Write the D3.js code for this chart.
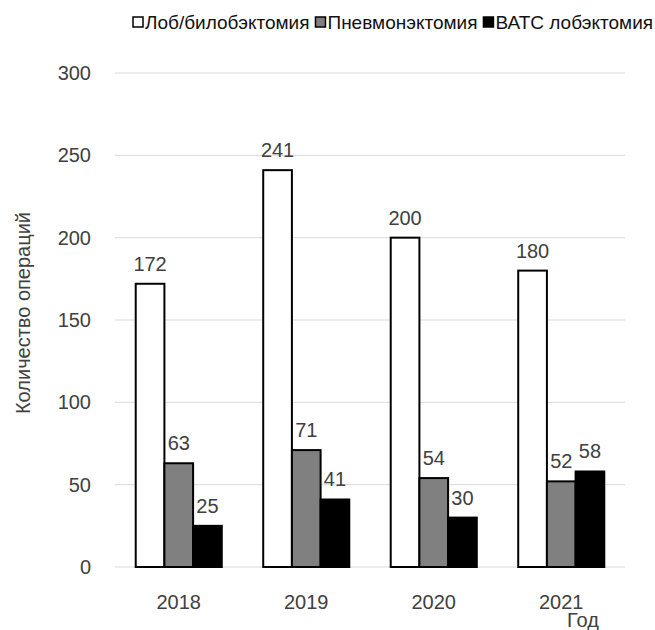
<!DOCTYPE html>
<html>
<head>
<meta charset="utf-8">
<script src="https://cdn.jsdelivr.net/npm/d3@7"></script>
<style>
  html, body { margin: 0; padding: 0; background: #fff; }
  svg { display: block; font-family: "Liberation Sans", Arial, sans-serif; }
</style>
</head>
<body>
<svg id="chart" width="655" height="630"></svg>
<script>
// Operation counts per year by procedure type
const years = ["2018", "2019", "2020", "2021"];
const seriesNames = ["Лоб/билобэктомия", "Пневмонэктомия", "ВАТС лобэктомия"];
const lobBilob = [172, 241, 200, 180];
const pneumonectomy = [63, 71, 54, 52];
const vatsLobectomy = [25, 41, 30, 58];
const yTicks = [0, 50, 100, 150, 200, 250, 300];
const seriesFill = ["#ffffff", "#808080", "#000000"];

const seriesValues = [lobBilob, pneumonectomy, vatsLobectomy];

const svg = d3.select("#chart");
const margin = { left: 115, right: 30, top: 73, bottom: 63 };
const W = 655, H = 630;
const FS = 20;
const TEXT = "#404040";

const x = d3.scaleBand().domain(years).range([margin.left, W - margin.right]).paddingInner(0.325).paddingOuter(0.1625);
const xSub = d3.scaleBand().domain(d3.range(seriesNames.length)).range([0, x.bandwidth()]);
const y = d3.scaleLinear().domain([0, 300]).range([H - margin.bottom, margin.top]);

// gridlines
svg.append("g")
  .selectAll("line")
  .data(yTicks)
  .join("line")
  .attr("x1", margin.left).attr("x2", W - margin.right)
  .attr("y1", d => y(d)).attr("y2", d => y(d))
  .attr("stroke", "#d9d9d9").attr("stroke-width", 1);

// y axis tick labels
const yAxis = d3.axisLeft(y).tickValues(yTicks).tickSize(0).tickPadding(24);
const gy = svg.append("g").attr("transform", `translate(${margin.left},0)`).call(yAxis);
gy.select(".domain").remove();
gy.selectAll("text").attr("font-size", FS).attr("fill", TEXT).attr("font-family", "Liberation Sans, Arial, sans-serif");

// x axis labels
const xAxis = d3.axisBottom(x).tickSize(0).tickPadding(28);
const gx = svg.append("g").attr("transform", `translate(0,${y(0)})`).call(xAxis);
gx.select(".domain").remove();
gx.selectAll("text").attr("font-size", FS).attr("fill", TEXT).attr("font-family", "Liberation Sans, Arial, sans-serif");

// bars with value labels
const groups = svg.append("g")
  .selectAll("g")
  .data(years)
  .join("g")
  .attr("transform", d => `translate(${x(d)},0)`);

groups.each(function(year, yi) {
  const g = d3.select(this);
  seriesValues.forEach((vals, si) => {
    const v = vals[yi];
    g.append("rect")
      .attr("x", xSub(si))
      .attr("y", y(v))
      .attr("width", xSub.bandwidth())
      .attr("height", y(0) - y(v))
      .attr("fill", seriesFill[si])
      .attr("stroke", "#000")
      .attr("stroke-width", 2);
    g.append("text")
      .attr("x", xSub(si) + xSub.bandwidth() / 2)
      .attr("y", y(v) - 13)
      .attr("text-anchor", "middle")
      .attr("font-size", FS)
      .attr("fill", TEXT)
      .text(v);
  });
});

// axis titles
svg.append("text")
  .attr("transform", `translate(30,${(y(0) + y(300)) / 2 - 7}) rotate(-90)`)
  .attr("text-anchor", "middle")
  .attr("font-size", FS)
  .attr("fill", TEXT)
  .text("Количество операций");

svg.append("text")
  .attr("x", 583)
  .attr("y", 627)
  .attr("text-anchor", "middle")
  .attr("font-size", FS)
  .attr("fill", TEXT)
  .text("Год");

// legend
const legend = svg.append("g").attr("transform", "translate(133,22)");
let lx = 0;
seriesNames.forEach((name, i) => {
  const item = legend.append("g").attr("transform", `translate(${lx},0)`);
  item.append("rect")
    .attr("x", 0).attr("y", -5)
    .attr("width", 10).attr("height", 10)
    .attr("fill", seriesFill[i])
    .attr("stroke", "#000").attr("stroke-width", 1.5);
  const t = item.append("text")
    .attr("x", 12).attr("y", 7)
    .attr("font-size", 19)
    .attr("fill", "#111")
    .text(name);
  lx += 12 + t.node().getComputedTextLength() + 6;
});
</script>
</body>
</html>
